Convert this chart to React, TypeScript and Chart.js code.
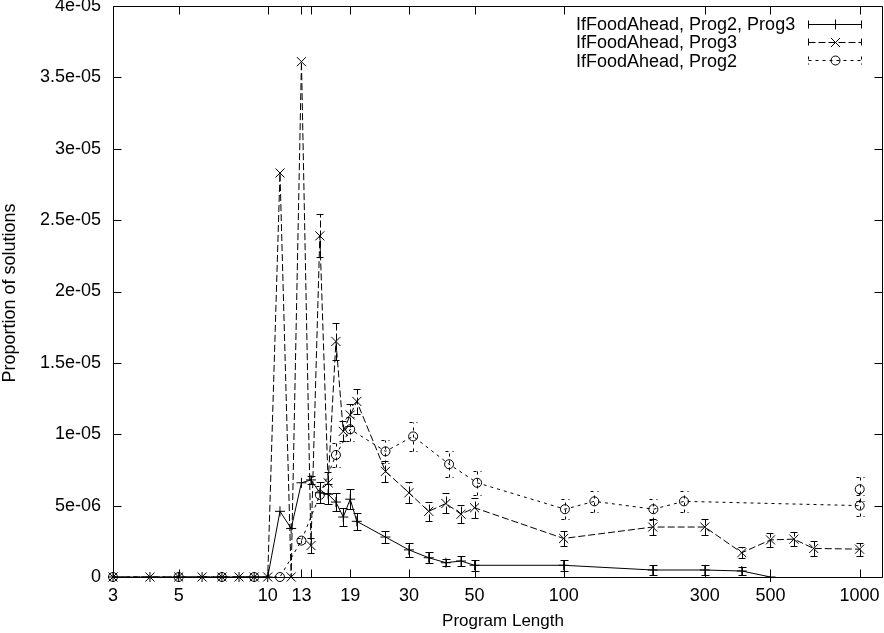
import { useEffect, useRef } from "react";
import { Chart, registerables } from "chart.js";

Chart.register(...registerables);

// tick labels as printed on the axes
const xTickValues = [3, 5, 10, 13, 14, 19, 30, 50, 100, 300, 500, 1000];
const xTickLabels = ["3", "5", "10", "13", "", "19", "30", "50", "100", "300", "500", "1000"];
const yTickValues = [0, 5e-6, 1e-5, 1.5e-5, 2e-5, 2.5e-5, 3e-5, 3.5e-5, 4e-5];
const yTickLabels = ["0", "5e-06", "1e-05", "1.5e-05", "2e-05", "2.5e-05", "3e-05", "3.5e-05", "4e-05"];

// IfFoodAhead, Prog2, Prog3
const bothLengths = [3, 4, 5, 6, 7, 8, 9, 10, 11, 12, 13, 14, 15, 16, 17, 18, 19, 20, 25, 30, 35, 40, 45, 50, 100, 200, 300, 400, 500];
const bothValues = [0, 0, 0, 0, 0, 0, 0, 0, 4.6e-6, 3.4e-6, 6.6e-6, 6.8e-6, 5.9e-6, 5.8e-6, 5.25e-6, 4.2e-6, 5.45e-6, 3.9e-6, 2.8e-6, 1.9e-6, 1.35e-6, 1.0e-6, 1.12e-6, 0.82e-6, 0.82e-6, 0.49e-6, 0.49e-6, 0.42e-6, 0];
const bothErrors = [0, 0, 0, 0, 0, 0, 0, 0, 0, 0, 0, 0.3e-6, 0.75e-6, 0.7e-6, 0.65e-6, 0.6e-6, 0.7e-6, 0.6e-6, 0.4e-6, 0.47e-6, 0.37e-6, 0.23e-6, 0.33e-6, 0.4e-6, 0.4e-6, 0.32e-6, 0.35e-6, 0.25e-6, 0];

// IfFoodAhead, Prog3
const prog3Lengths = [3, 4, 5, 6, 7, 8, 9, 10, 11, 12, 13, 14, 15, 16, 17, 18, 19, 20, 25, 30, 35, 40, 45, 50, 100, 200, 300, 400, 500, 600, 700, 1000];
const prog3Values = [0, 0, 0, 0, 0, 0, 0, 0, 2.83e-5, 0, 3.61e-5, 2.2e-6, 2.39e-5, 6.6e-6, 1.65e-5, 1.02e-5, 1.135e-5, 1.23e-5, 7.4e-6, 5.9e-6, 4.6e-6, 5.15e-6, 4.4e-6, 4.85e-6, 2.7e-6, 3.5e-6, 3.5e-6, 1.7e-6, 2.6e-6, 2.65e-6, 2.0e-6, 1.95e-6];
const prog3Errors = [0, 0, 0, 0, 0, 0, 0, 0, 0, 0, 0, 0.5e-6, 1.5e-6, 0.75e-6, 1.3e-6, 0.7e-6, 0.8e-6, 0.9e-6, 0.75e-6, 0.75e-6, 0.65e-6, 0.7e-6, 0.65e-6, 0.7e-6, 0.55e-6, 0.55e-6, 0.55e-6, 0.4e-6, 0.5e-6, 0.5e-6, 0.5e-6, 0.45e-6];

// IfFoodAhead, Prog2
const prog2Lengths = [3, 5, 7, 9, 11, 13, 15, 17, 19, 25, 31, 41, 51, 101, 127, 201, 255, 1001, 1001];
const prog2Values = [0, 0, 0, 0, 0, 2.55e-6, 5.75e-6, 8.55e-6, 1.035e-5, 8.8e-6, 9.85e-6, 7.9e-6, 6.6e-6, 4.75e-6, 5.3e-6, 4.75e-6, 5.3e-6, 5.0e-6, 6.15e-6];
const prog2Errors = [0, 0, 0, 0, 0, 0.15e-6, 0.6e-6, 0.85e-6, 0.85e-6, 0.8e-6, 1.0e-6, 0.9e-6, 0.85e-6, 0.72e-6, 0.75e-6, 0.74e-6, 0.75e-6, 0.75e-6, 0.84e-6];

const seriesLabels = ["IfFoodAhead, Prog2, Prog3", "IfFoodAhead, Prog3", "IfFoodAhead, Prog2"];

const FONT = "'Liberation Sans', Arial, Helvetica, sans-serif";

function drawMarker(ctx: CanvasRenderingContext2D, style: string, x: number, y: number) {
  ctx.beginPath();
  if (style === "cross") {
    ctx.moveTo(x - 5, y); ctx.lineTo(x + 5, y);
    ctx.moveTo(x, y - 5); ctx.lineTo(x, y + 5);
  } else if (style === "crossRot") {
    ctx.moveTo(x - 4.5, y - 4.5); ctx.lineTo(x + 4.5, y + 4.5);
    ctx.moveTo(x - 4.5, y + 4.5); ctx.lineTo(x + 4.5, y - 4.5);
  } else {
    ctx.arc(x, y, 4.5, 0, Math.PI * 2);
  }
  ctx.stroke();
}

// gnuplot-ish decorations: error bars, frame with inward ticks, key and axis titles
const gnuplotPlugin = {
  id: "gnuplotLook",
  afterDatasetsDraw(chart: any) {
    const ctx = chart.ctx as CanvasRenderingContext2D;
    const ys = chart.scales.y;
    ctx.save();
    ctx.strokeStyle = "#000";
    ctx.lineWidth = 1;
    chart.data.datasets.forEach((ds: any, i: number) => {
      const meta = chart.getDatasetMeta(i);
      ctx.setLineDash(ds.borderDash || []);
      meta.data.forEach((pt: any, j: number) => {
        const e = ds.errors[j];
        if (!e) return;
        const v = ds.data[j].y;
        const x = Math.round(pt.x) + 0.5;
        const lo = Math.round(ys.getPixelForValue(v - e)) + 0.5;
        const hi = Math.round(ys.getPixelForValue(v + e)) + 0.5;
        ctx.beginPath();
        ctx.moveTo(x, lo); ctx.lineTo(x, hi);
        ctx.moveTo(x - 4, lo); ctx.lineTo(x + 4, lo);
        ctx.moveTo(x - 4, hi); ctx.lineTo(x + 4, hi);
        ctx.stroke();
      });
    });
    ctx.restore();
  },
  afterDraw(chart: any) {
    const ctx = chart.ctx as CanvasRenderingContext2D;
    const { left, right, top, bottom } = chart.chartArea;
    const xs = chart.scales.x;
    const ys = chart.scales.y;
    const L = Math.round(left) + 0.5;
    const R = Math.round(right) - 0.5;
    const T = Math.round(top) + 0.5;
    const B = Math.round(bottom) + 0.5;
    ctx.save();
    ctx.strokeStyle = "#000";
    ctx.lineWidth = 1;
    ctx.setLineDash([]);
    ctx.beginPath();
    ctx.rect(L, T, R - L, B - T);
    ctx.stroke();

    ctx.beginPath();
    xTickValues.forEach((v) => {
      const x = Math.round(xs.getPixelForValue(v)) + 0.5;
      ctx.moveTo(x, B); ctx.lineTo(x, B - 8);
      ctx.moveTo(x, T); ctx.lineTo(x, T + 8);
    });
    yTickValues.forEach((v) => {
      const y = Math.round(ys.getPixelForValue(v)) + 0.5;
      ctx.moveTo(L, y); ctx.lineTo(L + 8, y);
      ctx.moveTo(R, y); ctx.lineTo(R - 8, y);
    });
    ctx.stroke();

    // axis titles
    ctx.fillStyle = "#000";
    ctx.font = `17px ${FONT}`;
    ctx.textAlign = "center";
    ctx.textBaseline = "alphabetic";
    ctx.fillText("Program Length", 503, 626);
    ctx.save();
    ctx.translate(14.5, 293);
    ctx.rotate(-Math.PI / 2);
    ctx.font = `18px ${FONT}`;
    ctx.fillText("Proportion of solutions", 0, 0);
    ctx.restore();

    // key
    const styles = ["cross", "crossRot", "circle"];
    const dashes = chart.data.datasets.map((ds: any) => ds.borderDash || []);
    const baselines = [30, 48.3, 66.6];
    ctx.font = `18px ${FONT}`;
    ctx.textAlign = "left";
    seriesLabels.forEach((label, i) => {
      ctx.fillText(label, 576, baselines[i]);
      const y = Math.round(baselines[i] - 6.5) + 0.5;
      ctx.setLineDash(dashes[i]);
      ctx.beginPath();
      ctx.moveTo(808.5, y); ctx.lineTo(861.5, y);
      ctx.moveTo(808.5, y - 4); ctx.lineTo(808.5, y + 4);
      ctx.moveTo(861.5, y - 4); ctx.lineTo(861.5, y + 4);
      ctx.stroke();
      ctx.setLineDash([]);
      drawMarker(ctx, styles[i], 835.5, y);
    });
    ctx.restore();
  },
};

function toPoints(xs: number[], ys: number[]) {
  return xs.map((x, i) => ({ x, y: ys[i] }));
}

export default function App() {
  const chartRef = useRef<HTMLCanvasElement>(null);
  const chartInstance = useRef<Chart | null>(null);

  useEffect(() => {
    if (!chartRef.current) return;
    if (chartInstance.current) chartInstance.current.destroy();
    const ctx = chartRef.current.getContext("2d");
    if (!ctx) return;

    Chart.defaults.font.family = FONT;
    Chart.defaults.color = "#000";

    const common = {
      showLine: true,
      clip: false,
      borderColor: "#000",
      borderWidth: 1,
      pointBorderColor: "#000",
      pointBackgroundColor: "rgba(0,0,0,0)",
      pointBorderWidth: 1,
    };

    chartInstance.current = new Chart(ctx, {
      type: "scatter",
      data: {
        datasets: [
          {
            ...common,
            label: seriesLabels[0],
            data: toPoints(bothLengths, bothValues),
            errors: bothErrors,
            pointStyle: "cross",
            pointRadius: 5,
          } as any,
          {
            ...common,
            label: seriesLabels[1],
            data: toPoints(prog3Lengths, prog3Values),
            errors: prog3Errors,
            borderDash: [7, 3],
            pointStyle: "crossRot",
            pointRadius: 6.4,
          } as any,
          {
            ...common,
            label: seriesLabels[2],
            data: toPoints(prog2Lengths, prog2Values),
            errors: prog2Errors,
            borderDash: [3, 4],
            pointStyle: "circle",
            pointRadius: 4.5,
          } as any,
        ],
      },
      options: {
        responsive: false,
        animation: false,
        events: [],
        layout: { autoPadding: false, padding: { top: 6, right: 1, left: 0, bottom: 0 } },
        plugins: {
          legend: { display: false },
          tooltip: { enabled: false },
        },
        scales: {
          x: {
            type: "logarithmic",
            min: 3,
            max: 1200,
            grid: { display: false, drawTicks: false },
            border: { display: false },
            afterBuildTicks: (scale: any) => {
              scale.ticks = xTickValues.map((v) => ({ value: v }));
            },
            afterFit: (scale: any) => {
              scale.height = 56;
              scale.paddingLeft = 0;
              scale.paddingRight = 0;
            },
            ticks: {
              autoSkip: false,
              maxRotation: 0,
              minRotation: 0,
              padding: 8,
              color: "#000",
              font: { size: 18 },
              callback: (value: any) => {
                const i = xTickValues.indexOf(Number(value));
                return i >= 0 ? xTickLabels[i] : "";
              },
            },
          },
          y: {
            type: "linear",
            min: 0,
            max: 4e-5,
            grid: { display: false, drawTicks: false },
            border: { display: false },
            afterBuildTicks: (scale: any) => {
              scale.ticks = yTickValues.map((v) => ({ value: v }));
            },
            afterFit: (scale: any) => {
              scale.width = 113;
              scale.paddingTop = 0;
              scale.paddingBottom = 0;
            },
            ticks: {
              padding: 12,
              color: "#000",
              font: { size: 18 },
              callback: (value: any) => {
                const i = yTickValues.indexOf(Number(value));
                return i >= 0 ? yTickLabels[i] : "";
              },
            },
          },
        },
      },
      plugins: [gnuplotPlugin],
    });

    return () => {
      if (chartInstance.current) {
        chartInstance.current.destroy();
        chartInstance.current = null;
      }
    };
  }, []);

  return (
    <div style={{ position: "absolute", left: 0, top: 0, width: 884, height: 633, background: "#fff" }}>
      <canvas ref={chartRef} width={884} height={633} style={{ display: "block" }} />
    </div>
  );
}
